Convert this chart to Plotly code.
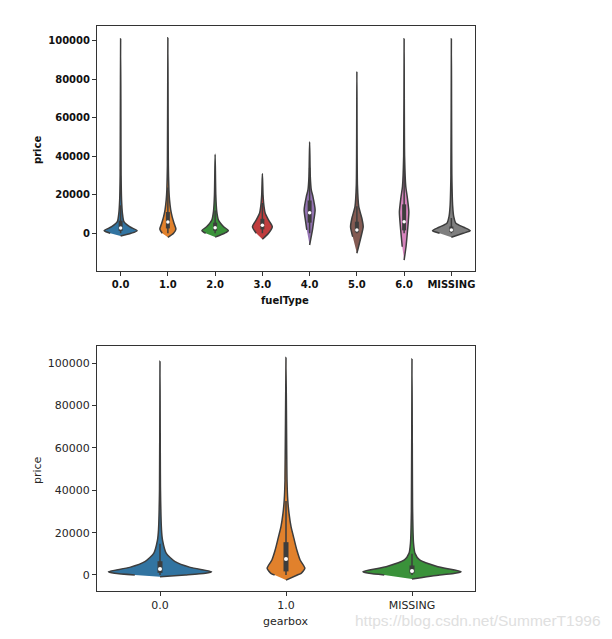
import plotly.graph_objects as go

# ---------------- data ----------------
fuel_types = ["0.0", "1.0", "2.0", "3.0", "4.0", "5.0", "6.0", "MISSING"]
fuel_colors = ["#3274a1", "#e1812c", "#3a923a", "#c03d3e",
               "#9372b2", "#845b53", "#d684bd", "#7f7f7f"]
# KDE outline: price levels and half-widths (category units) per violin
fuel_levels = [
    [-1400, 0, 1350, 3400, 6000, 10400, 17300, 30000, 60000, 101000],
    [-2100, 0, 2100, 5200, 8600, 12100, 17300, 22500, 35000, 101500],
    [-2000, 0, 1350, 3400, 6900, 11200, 20000, 41000],
    [-3100, 0, 3400, 6900, 10400, 13800, 20000, 31000],
    [-6100, 1700, 6900, 12100, 19000, 22500, 29400, 47500],
    [-10400, -1800, 3400, 7800, 13800, 25000, 84000],
    [-13900, -7000, 0, 6000, 11200, 19000, 24200, 40000, 101000],
    [-2100, 0, 1350, 3100, 5200, 8600, 13800, 30000, 101000],
]
fuel_widths = [
    [0, 0.22, 0.35, 0.19, 0.07, 0.038, 0.02, 0.01, 0.006, 0],
    [0, 0.12, 0.17, 0.13, 0.09, 0.06, 0.035, 0.022, 0.01, 0],
    [0, 0.20, 0.28, 0.18, 0.07, 0.035, 0.014, 0],
    [0, 0.13, 0.21, 0.13, 0.06, 0.035, 0.014, 0],
    [0, 0.06, 0.09, 0.116, 0.07, 0.035, 0.014, 0],
    [0, 0.088, 0.134, 0.105, 0.04, 0.012, 0],
    [0, 0.04, 0.067, 0.088, 0.10, 0.065, 0.035, 0.01, 0],
    [0, 0.25, 0.40, 0.26, 0.095, 0.05, 0.028, 0.01, 0],
]
fuel_q1 = [1200, 2500, 1300, 2000, 5500, 500, 1500, 600]
fuel_median = [2700, 5900, 2900, 4100, 10700, 1700, 6000, 1700]
fuel_q3 = [6500, 11000, 5500, 7500, 17000, 6000, 15000, 3500]
fuel_whisk_lo = [0, 0, 0, 0, 0, 0, 0, 0]
fuel_whisk_hi = [14500, 23700, 11800, 15700, 34000, 14000, 35000, 7900]

gear_types = ["0.0", "1.0", "MISSING"]
gear_colors = ["#3274a1", "#e1812c", "#3a923a"]
gear_levels = [
    [-800, 0, 800, 1560, 3600, 6300, 10200, 16500, 21200, 40000, 101000],
    [-2400, 0, 800, 3150, 7100, 11800, 16500, 22800, 29100, 35400, 44800, 102700],
    [-1900, 0, 800, 1560, 3900, 7100, 10200, 15100, 30000, 102000],
]
gear_widths = [
    [0, 0.20, 0.36, 0.41, 0.24, 0.12, 0.05, 0.02, 0.012, 0.004, 0],
    [0, 0.09, 0.12, 0.15, 0.112, 0.086, 0.066, 0.04, 0.024, 0.014, 0.008, 0],
    [0, 0.22, 0.34, 0.39, 0.205, 0.06, 0.024, 0.012, 0.005, 0],
]
gear_q1 = [1000, 1700, 800]
gear_median = [2800, 7500, 1900]
gear_q3 = [6500, 15500, 4500]
gear_whisk_lo = [0, 0, 0]
gear_whisk_hi = [14700, 35000, 10000]

fuel_ticks = [0, 20000, 40000, 60000, 80000, 100000]
gear_ticks = [0, 20000, 40000, 60000, 80000, 100000]

OUTLINE = "#3d3d3d"
fig = go.Figure()


def add_violins(levels, widths, q1, med, q3, lo, hi, colors, xa, ya, boxw, dot):
    for i, (lv, wd) in enumerate(zip(levels, widths)):
        xs = [i + w for w in wd] + [i - w for w in list(reversed(wd))[1:-1]]
        ys = list(lv) + list(reversed(lv))[1:-1]
        fig.add_trace(go.Scatter(
            x=xs, y=ys, mode="lines", fill="toself", fillcolor=colors[i],
            line=dict(color=OUTLINE, width=1.5, shape="spline", smoothing=0.6),
            xaxis=xa, yaxis=ya, hoverinfo="skip", showlegend=False))
        fig.add_trace(go.Scatter(
            x=[i, i], y=[lo[i], hi[i]], mode="lines",
            line=dict(color=OUTLINE, width=1.5),
            xaxis=xa, yaxis=ya, hoverinfo="skip", showlegend=False))
        fig.add_trace(go.Scatter(
            x=[i, i], y=[q1[i], q3[i]], mode="lines",
            line=dict(color=OUTLINE, width=boxw),
            xaxis=xa, yaxis=ya, hoverinfo="skip", showlegend=False))
        fig.add_trace(go.Scatter(
            x=[i], y=[med[i]], mode="markers",
            marker=dict(color="white", size=dot, line=dict(width=0)),
            xaxis=xa, yaxis=ya, hoverinfo="skip", showlegend=False))


add_violins(fuel_levels, fuel_widths, fuel_q1, fuel_median, fuel_q3,
            fuel_whisk_lo, fuel_whisk_hi, fuel_colors, "x", "y", 4, 3.5)
add_violins(gear_levels, gear_widths, gear_q1, gear_median, gear_q3,
            gear_whisk_lo, gear_whisk_hi, gear_colors, "x2", "y2", 5, 4)

W, H = 612, 639
top_font = dict(family="DejaVu Sans", size=10, color="#111111", weight="bold")
bot_font = dict(family="DejaVu Sans", size=11, color="#262626")
axis_common = dict(showline=True, mirror=True, linecolor="#333333", linewidth=1,
                   ticks="outside", ticklen=4, tickcolor="#333333",
                   showgrid=False, zeroline=False)

fig.update_layout(
    width=W, height=H, margin=dict(l=0, r=0, t=0, b=0),
    paper_bgcolor="white", plot_bgcolor="white", showlegend=False,
    xaxis=dict(domain=[97 / W, 475 / W], anchor="y", range=[-0.5, 7.5],
               tickvals=list(range(len(fuel_types))), ticktext=fuel_types,
               tickfont=top_font, **axis_common),
    yaxis=dict(domain=[1 - 271 / H, 1 - 26 / H], anchor="x",
               range=[-19600, 107600], tickvals=fuel_ticks, tickformat="d",
               tickfont=top_font, **axis_common),
    xaxis2=dict(domain=[97 / W, 475 / W], anchor="y2", range=[-0.5, 2.5],
                tickvals=list(range(len(gear_types))), ticktext=gear_types,
                tickfont=bot_font, **axis_common),
    yaxis2=dict(domain=[1 - 591 / H, 1 - 345.7 / H], anchor="x2",
                range=[-7560, 108300], tickvals=gear_ticks, tickformat="d",
                tickfont=bot_font, **axis_common),
)

annos = [
    dict(text="price", x=37 / W, y=1 - 150 / H, textangle=-90, font=top_font),
    dict(text="fuelType", x=285 / W, y=1 - 300 / H, font=top_font),
    dict(text="price", x=37 / W, y=1 - 470 / H, textangle=-90, font=bot_font),
    dict(text="gearbox", x=285 / W, y=1 - 621 / H, font=bot_font),
    dict(text="https://blog.csdn.net/SummerT1996", x=478 / W, y=1 - 620 / H,
         font=dict(family="Liberation Sans", size=15.5, color="#e0e0e0")),
]
for a in annos:
    fig.add_annotation(xref="paper", yref="paper", showarrow=False,
                       xanchor="center", yanchor="middle", **a)

fig.write_html("out.html")
